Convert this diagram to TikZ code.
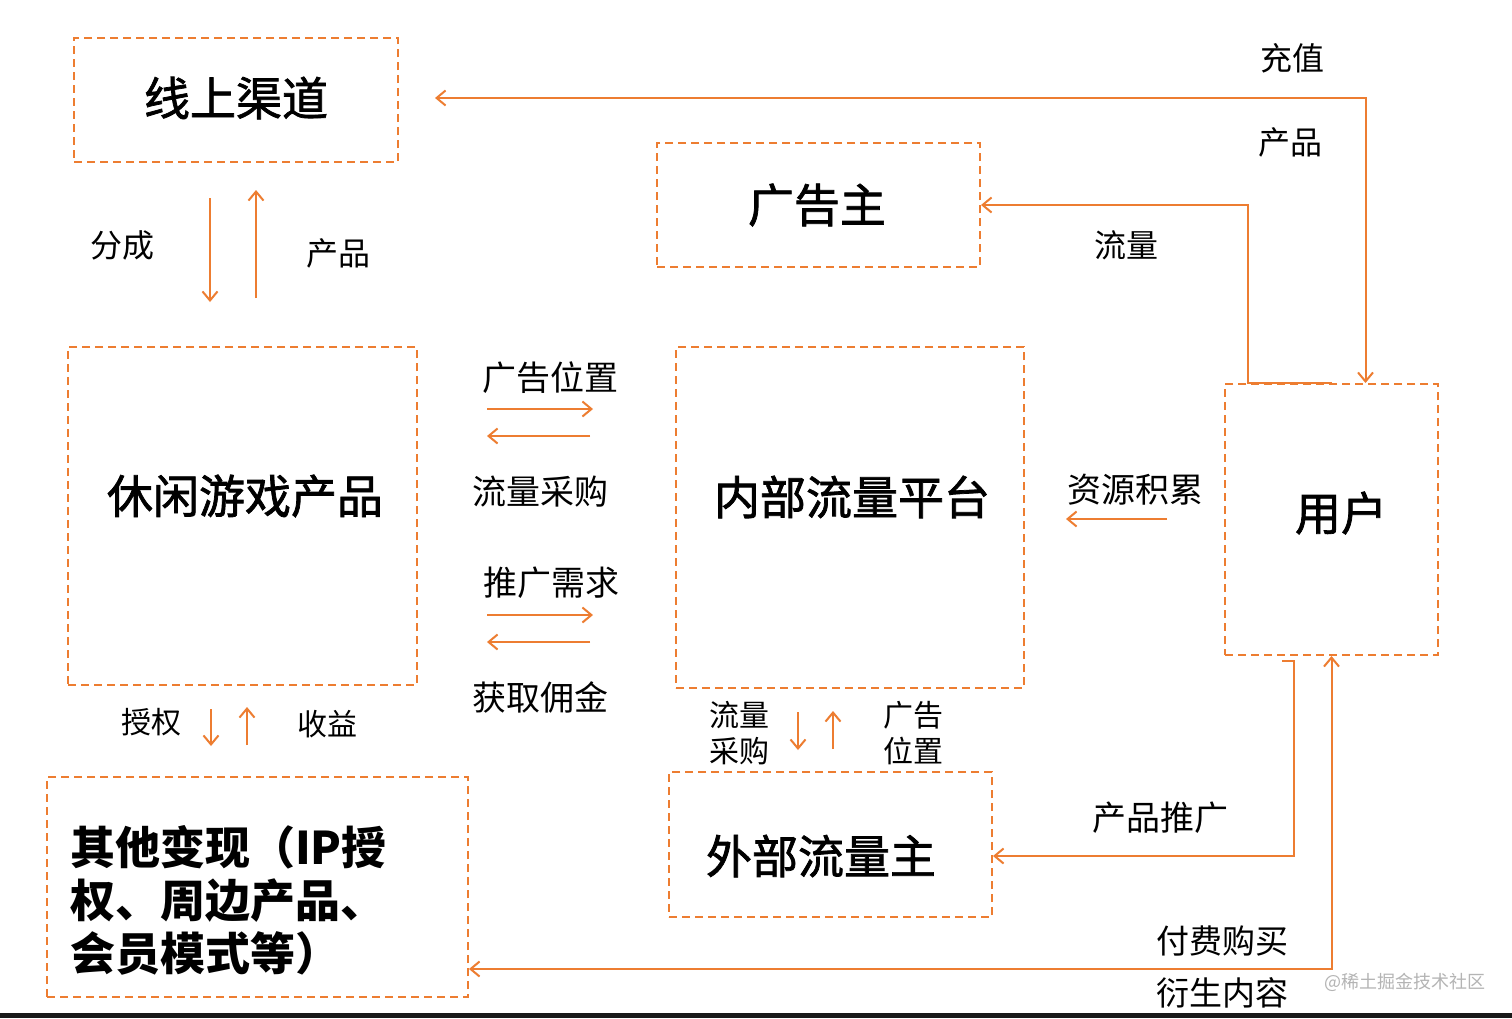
\documentclass[tikz,border=0pt]{standalone}
\usepackage{fontspec}
\setmainfont{Noto Sans CJK SC}
\newfontfamily\semib{Noto Sans CJK SC}[FakeBold=1.6]
\usetikzlibrary{arrows.meta,calc}
\definecolor{org}{HTML}{ED7D31}
\definecolor{wm}{HTML}{B4B4B4}
\begin{document}
\begin{tikzpicture}[x=1pt,y=-1pt,
  box/.style={draw=org,line width=2pt,dash pattern=on 8pt off 5pt,inner sep=0pt,minimum width=#1},
  title/.style={font=\fontsize{46}{54}\selectfont\semib,inner sep=0pt},
  lab/.style={font=\fontsize{32}{38}\selectfont,inner sep=0pt},
  slab/.style={font=\fontsize{30}{36}\selectfont,inner sep=0pt,align=left},
  arr/.style={draw=org,line width=2pt,arrows={-Straight Barb[length=9pt,width=15pt]}},
  darr/.style={draw=org,line width=2pt,arrows={Straight Barb[length=9pt,width=15pt]-Straight Barb[length=9pt,width=15pt]}}
]
\useasboundingbox (0,0) rectangle (1512,1018);
\fill[white] (0,0) rectangle (1512,1018);
\fill[black!90] (0,1013) rectangle (1512,1018);

% boxes
\node[box=324pt,minimum height=124pt] (online) at (236,100) {};
\node[box=323pt,minimum height=124pt] (adv) at (818.5,205) {};
\node[box=349pt,minimum height=338pt] (game) at (242.5,516) {};
\node[box=348pt,minimum height=341pt] (inner) at (850,517.5) {};
\node[box=213pt,minimum height=271pt] (user) at (1331.5,519.5) {};
\node[box=323pt,minimum height=145pt] (ext) at (830.5,844.5) {};
\node[box=421pt,minimum height=220pt] (other) at (257.5,887) {};

% titles
\node[title] (onlineT) at (236,98) {线上渠道};
\node[title] (advT) at (817,205) {广告主};
\node[title] (gameT) at (245,496) {休闲游戏产品};
\node[title] (innerT) at (852,497) {内部流量平台};
\node[title] (userT) at (1341,513) {用户};
\node[title] (extT) at (821,856) {外部流量主};
\node[title,anchor=west,align=left,font=\fontsize{45}{53}\selectfont\bfseries] (otherT) at (70,900) {其他变现（IP授\\权、周边产品、\\会员模式等）};

% labels
\node[lab] (l1) at (122,245) {分成};
\node[lab] (l2) at (338,253) {产品};
\node[lab] (l3) at (1292,58) {充值};
\node[lab] (l4) at (1290,142) {产品};
\node[lab] (l5) at (1126,245) {流量};
\node[lab,font=\fontsize{34}{40}\selectfont] (l6) at (550,378) {广告位置};
\node[lab,font=\fontsize{34}{40}\selectfont] (l7) at (540,492) {流量采购};
\node[lab,font=\fontsize{34}{40}\selectfont] (l8) at (551,583) {推广需求};
\node[lab,font=\fontsize{34}{40}\selectfont] (l9) at (540,697) {获取佣金};
\node[lab,font=\fontsize{34}{40}\selectfont] (l10) at (1135,490) {资源积累};
\node[lab,font=\fontsize{34}{40}\selectfont] (l11) at (1160,818) {产品推广};
\node[lab,font=\fontsize{33}{39}\selectfont] (l12) at (1222,941) {付费购买};
\node[lab,font=\fontsize{33}{39}\selectfont] (l13) at (1222,993) {衍生内容};
\node[slab] (l14) at (151,722) {授权};
\node[slab] (l15) at (327,724) {收益};
\node[slab,align=left] (l16) at (739,733) {流量\\采购};
\node[slab,align=left] (l17) at (913,733) {广告\\位置};
\node[font=\fontsize{18}{21}\selectfont,text=wm,inner sep=0pt] (wmk) at (1405,982) {@稀土掘金技术社区};

% long connectors
\draw[darr] ([xshift=34pt]user.north) |- ($(online.east)+(36,-2)$);
\draw[arr] (user.north) -- ++(-84,0) |- (adv.east);
\draw[arr] (1282,661) -- (1294,661) -- (1294,856) -- ($(ext.east)+(0,11.5)$);
\draw[darr] (user.south) |- ($(other.east)+(0,82)$);

% small arrows
\coordinate (a1s) at (210,198); \coordinate (a1e) at (210,302);
\coordinate (a2s) at (256,298); \coordinate (a2e) at (256,190);
\draw[arr] (a1s) -- (a1e);
\draw[arr] (a2s) -- (a2e);
\coordinate (b1s) at (487,409); \coordinate (b1e) at (593,409);
\coordinate (b2s) at (590,436); \coordinate (b2e) at (487,436);
\coordinate (b3s) at (487,615); \coordinate (b3e) at (593,615);
\coordinate (b4s) at (590,642); \coordinate (b4e) at (487,642);
\draw[arr] (b1s) -- (b1e);
\draw[arr] (b2s) -- (b2e);
\draw[arr] (b3s) -- (b3e);
\draw[arr] (b4s) -- (b4e);
\coordinate (c1s) at (1167,519); \coordinate (c1e) at (1066,519);
\draw[arr] (c1s) -- (c1e);
\coordinate (d1s) at (211,709); \coordinate (d1e) at (211,746);
\coordinate (d2s) at (247,745); \coordinate (d2e) at (247,707);
\draw[arr] (d1s) -- (d1e);
\draw[arr] (d2s) -- (d2e);
\coordinate (e1s) at (798,712); \coordinate (e1e) at (798,750);
\coordinate (e2s) at (833,749); \coordinate (e2e) at (833,711);
\draw[arr] (e1s) -- (e1e);
\draw[arr] (e2s) -- (e2e);
\end{tikzpicture}
\end{document}
